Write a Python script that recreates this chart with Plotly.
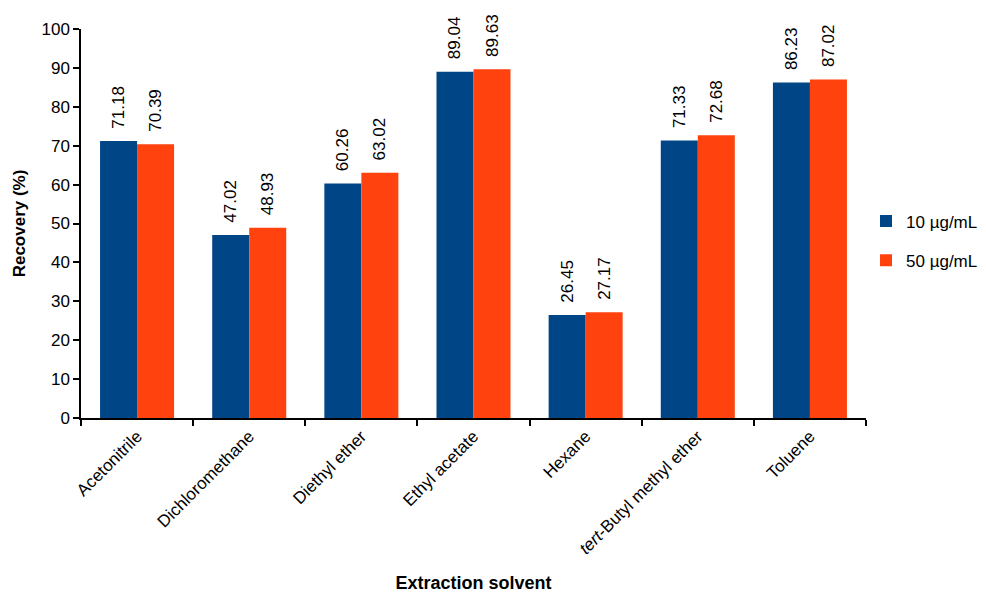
import plotly.graph_objects as go

solvents = ["Acetonitrile", "Dichloromethane", "Diethyl ether", "Ethyl acetate",
            "Hexane", "<i>tert</i>-Butyl methyl ether", "Toluene"]
rec_10 = [71.18, 47.02, 60.26, 89.04, 26.45, 71.33, 86.23]
rec_50 = [70.39, 48.93, 63.02, 89.63, 27.17, 72.68, 87.02]
series_names = ["10 µg/mL", "50 µg/mL"]
y_ticks = list(range(0, 101, 10))

FONT = "Liberation Sans, Arial, sans-serif"
PAD = "\u00a0\u00a0"  # small gap between bar top and its value label

fig = go.Figure()
for name, vals, color in [(series_names[0], rec_10, "#004586"),
                          (series_names[1], rec_50, "#ff420e")]:
    fig.add_trace(go.Bar(
        x=solvents, y=vals, name=name, legendgroup=name,
        marker=dict(color=color, line=dict(width=0)),
        text=[f"{PAD}{v:.2f}" for v in vals],
        textposition="outside", textangle=-90,
        textfont=dict(family=FONT, size=17, color="#000000"),
        constraintext="none", cliponaxis=False,
    ))

fig.update_layout(
    width=986, height=595,
    margin=dict(l=81, r=120, t=29, b=177, autoexpand=False),
    paper_bgcolor="white", plot_bgcolor="white",
    barmode="group", bargap=0.34, bargroupgap=0,
    font=dict(family=FONT, size=17, color="#000000"),
    legend=dict(x=1.0, y=0.455, xanchor="left", yanchor="middle",
                font=dict(family=FONT, size=17), itemwidth=30,
                tracegroupgap=14),
    showlegend=True,
)
fig.update_xaxes(
    type="category", tickson="boundaries", ticks="outside", ticklen=6,
    tickcolor="#000000", tickwidth=1.5, tickangle=-45,
    showline=True, linecolor="#000000", linewidth=1.5, mirror=False,
    showgrid=False, tickfont=dict(family=FONT, size=17),
    title=dict(text="<b>Extraction solvent</b>", font=dict(family=FONT, size=18),
               standoff=19),
)
fig.update_yaxes(
    range=[0, 100], tickvals=y_ticks, ticks="outside", ticklen=6,
    tickcolor="#000000", tickwidth=1.5,
    showline=True, linecolor="#000000", linewidth=1.5,
    showgrid=False, zeroline=False, tickfont=dict(family=FONT, size=17),
    title=dict(text="<b>Recovery (%)</b>", font=dict(family=FONT, size=17),
               standoff=12),
)

fig.write_html("out.html")
